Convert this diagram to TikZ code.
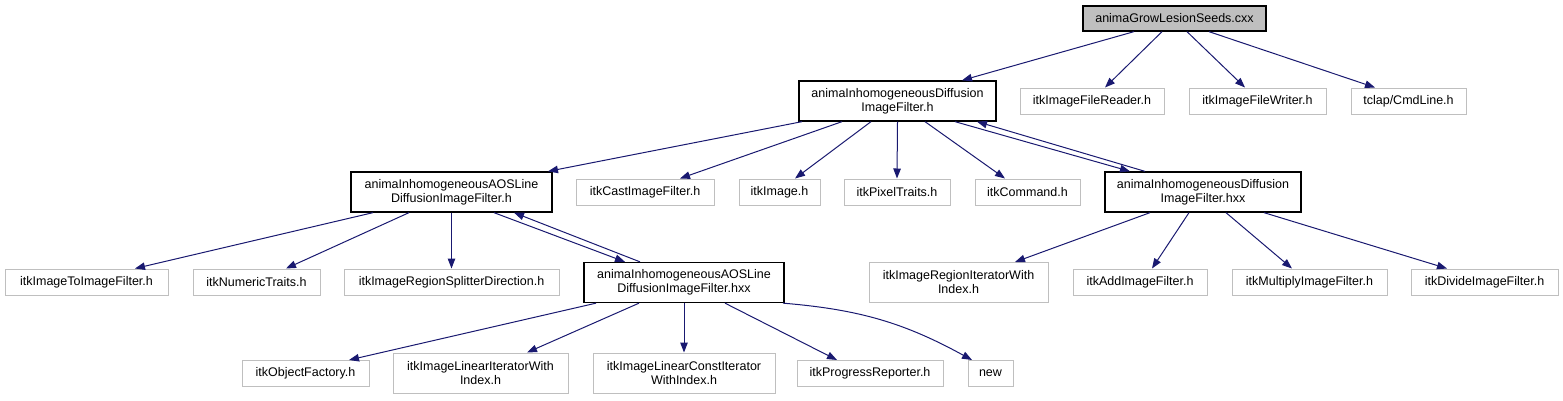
\documentclass[tikz,border=0pt]{standalone}
\usepackage{fontspec}
\setmainfont{Liberation Sans}
\usepackage{xcolor}
\usetikzlibrary{arrows.meta}

\definecolor{edgeblue}{RGB}{25,25,112}
\definecolor{boxgray}{RGB}{191,191,191}

\tikzset{
	file/.style={draw=black, line width=1.3pt, inner sep=0pt, align=center, font=\fontsize{12.5}{14}\selectfont},
	ext/.style={draw=boxgray, line width=1pt, inner sep=0pt, align=center, font=\fontsize{12.5}{14}\selectfont},
	inc/.style={draw=edgeblue, line width=1pt, -{Triangle[length=10pt,width=7.5pt]}}
}

\begin{document}
\begin{tikzpicture}[x=1pt,y=-1pt]
	\useasboundingbox (0,0) rectangle (1563,400);
	
	% top file
	\node[file, fill=boxgray, minimum width=183, minimum height=25] (seeds) at (1174.5,18.5) {animaGrowLesionSeeds.cxx};
	
	% second row
	\node[file, minimum width=197, minimum height=40] (difh) at (897.5,101) {animaInhomogeneousDiffusion\\ImageFilter.h};
	\node[ext, minimum width=144, minimum height=26] (reader) at (1092,101) {itkImageFileReader.h};
	\node[ext, minimum width=137, minimum height=26] (writer) at (1257.5,101) {itkImageFileWriter.h};
	\node[ext, minimum width=115, minimum height=26] (cmdline) at (1408.5,101) {tclap/CmdLine.h};
	
	% third row
	\node[file, minimum width=201, minimum height=40] (aosh) at (451.5,192) {animaInhomogeneousAOSLine\\DiffusionImageFilter.h};
	\node[ext, minimum width=138, minimum height=26] (cast) at (645,192) {itkCastImageFilter.h};
	\node[ext, minimum width=81, minimum height=26] (image) at (779.5,192) {itkImage.h};
	\node[ext, minimum width=106, minimum height=26] (pixel) at (897,192) {itkPixelTraits.h};
	\node[ext, minimum width=105, minimum height=26] (command) at (1027.5,192) {itkCommand.h};
	\node[file, minimum width=196, minimum height=40] (difhxx) at (1203,192) {animaInhomogeneousDiffusion\\ImageFilter.hxx};
	
	% fourth row
	\node[ext, minimum width=163, minimum height=26] (toimage) at (86.5,282) {itkImageToImageFilter.h};
	\node[ext, minimum width=127, minimum height=26] (numeric) at (256.5,282) {itkNumericTraits.h};
	\node[ext, minimum width=215, minimum height=26] (splitter) at (451.5,282) {itkImageRegionSplitterDirection.h};
	\node[file, minimum width=200, minimum height=40] (aoshxx) at (684,282.5) {animaInhomogeneousAOSLine\\DiffusionImageFilter.hxx};
	\node[ext, minimum width=179, minimum height=40] (regionit) at (958.5,282.5) {itkImageRegionIteratorWith\\Index.h};
	\node[ext, minimum width=134, minimum height=26] (add) at (1140,282) {itkAddImageFilter.h};
	\node[ext, minimum width=155, minimum height=26] (multiply) at (1309.5,282) {itkMultiplyImageFilter.h};
	\node[ext, minimum width=147, minimum height=26] (divide) at (1484.5,282) {itkDivideImageFilter.h};
	
	% bottom row
	\node[ext, minimum width=127, minimum height=26] (factory) at (305.5,373.5) {itkObjectFactory.h};
	\node[ext, minimum width=175, minimum height=40] (linit) at (480.5,373) {itkImageLinearIteratorWith\\Index.h};
	\node[ext, minimum width=182, minimum height=40] (linconst) at (684,373) {itkImageLinearConstIterator\\WithIndex.h};
	\node[ext, minimum width=146, minimum height=26] (progress) at (870,373.5) {itkProgressReporter.h};
	\node[ext, minimum width=45, minimum height=26] (new) at (990.5,373.5) {new};
	
	% includes of the top file
	\draw[inc] ([xshift=-40.5]seeds.south) -- ([xshift=64.5]difh.north);
	\draw[inc] ([xshift=-12.5]seeds.south) -- ([xshift=13]reader.north);
	\draw[inc] ([xshift=12.5]seeds.south) -- ([xshift=-12.5]writer.north);
	\draw[inc] ([xshift=34.5]seeds.south) -- ([xshift=-33.5]cmdline.north);
	
	% includes of the diffusion filter
	\draw[inc] ([xshift=-95.5]difh.south) -- ([xshift=96.5]aosh.north);
	\draw[inc] ([xshift=-55.5]difh.south) -- ([xshift=35]cast.north);
	\draw[inc] ([xshift=-26.5]difh.south) -- ([xshift=15.5]image.north);
	\draw[inc] (difh.south) -- (pixel.north);
	\draw[inc] ([xshift=27.5]difh.south) -- ([xshift=-22.5]command.north);
	\draw[inc] ([xshift=57.5]difh.south) -- ([xshift=-73]difhxx.north);
	\draw[inc] ([xshift=-58]difhxx.north) -- ([xshift=79.5]difh.south);
	
	% includes of the AOS line filter
	\draw[inc] ([xshift=-78.5]aosh.south) -- ([xshift=48.5]toimage.north);
	\draw[inc] ([xshift=-42.5]aosh.south) -- ([xshift=29.5]numeric.north);
	\draw[inc] (aosh.south) -- (splitter.north);
	\draw[inc] ([xshift=42.5]aosh.south) -- ([xshift=-59]aoshxx.north);
	\draw[inc] ([xshift=-44]aoshxx.north) -- ([xshift=62.5]aosh.south);
	
	% includes of the AOS line filter implementation
	\draw[inc] ([xshift=-88]aoshxx.south) -- ([xshift=43.5]factory.north);
	\draw[inc] ([xshift=-45]aoshxx.south) -- ([xshift=46.5]linit.north);
	\draw[inc] (aoshxx.south) -- (linconst.north);
	\draw[inc] ([xshift=41]aoshxx.south) -- ([xshift=-33]progress.north);
	\draw[inc] ([xshift=99]aoshxx.south) to[bend left=12] ([xshift=-18.5]new.north);
	
	% includes of the diffusion filter implementation
	\draw[inc] ([xshift=-53]difhxx.south) -- ([xshift=56.5]regionit.north);
	\draw[inc] ([xshift=-14]difhxx.south) -- ([xshift=12]add.north);
	\draw[inc] ([xshift=23]difhxx.south) -- ([xshift=-17.5]multiply.north);
	\draw[inc] ([xshift=61]difhxx.south) -- ([xshift=-37.5]divide.north);
\end{tikzpicture}
\end{document}
